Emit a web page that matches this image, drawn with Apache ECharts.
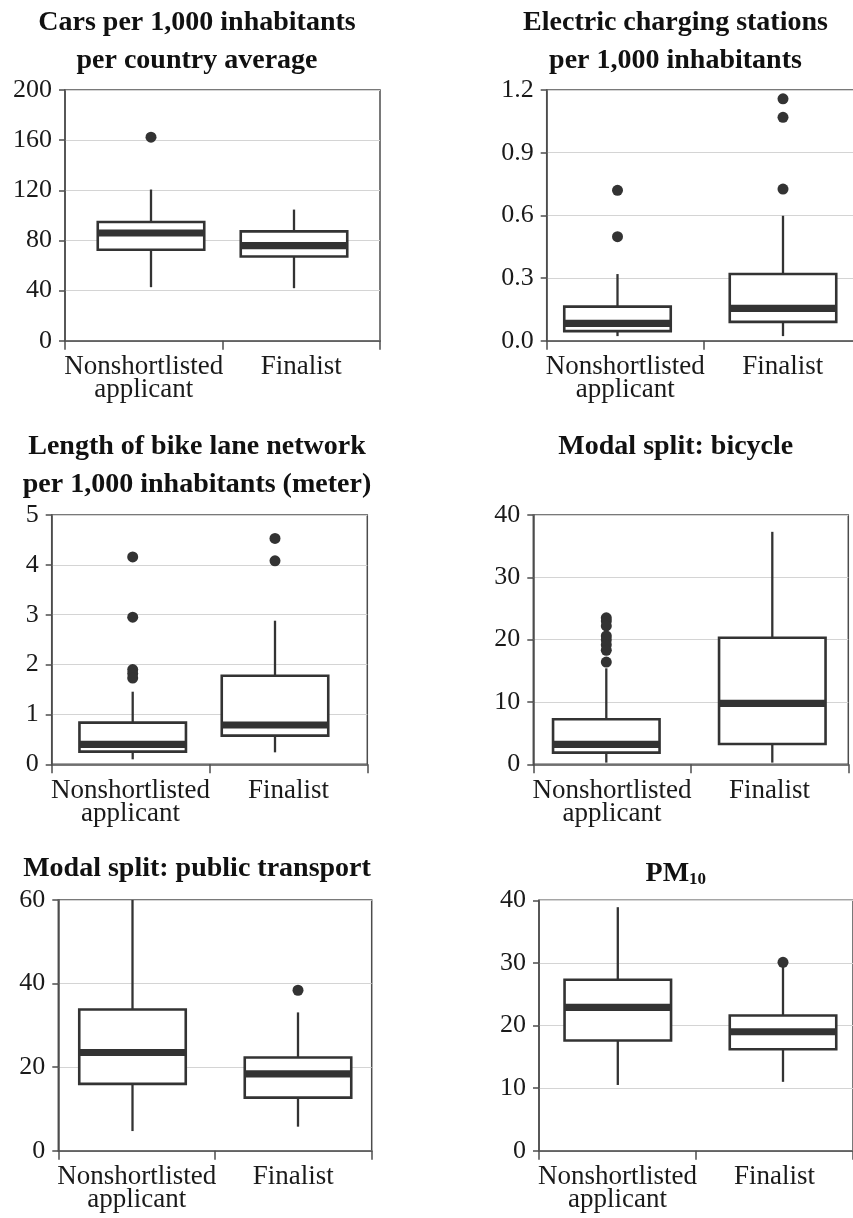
<!DOCTYPE html>
<html><head><meta charset="utf-8">
<script src="https://cdn.jsdelivr.net/npm/echarts@6/dist/echarts.min.js"></script>
<style>html,body{margin:0;padding:0;background:#fff}#c{width:853px;height:1218px}</style>
</head><body><div id="c"></div>
<script>
// ---------- data ----------
const categories = ['Nonshortlisted\napplicant', 'Finalist'];
// each box: [min whisker, Q1, median, Q3, max whisker]
const carsBoxes = [[42.7, 72.6, 85.9, 94.7, 120.6], [41.9, 67.2, 75.8, 87.2, 104.6]];
const carsOutliers = [[162.4], []];
const chargingBoxes = [[0.022, 0.046, 0.083, 0.163, 0.319], [0.022, 0.09, 0.155, 0.319, 0.598]];
const chargingOutliers = [[0.72, 0.498], [1.158, 1.069, 0.726]];
const bikeLaneBoxes = [[0.10, 0.254, 0.40, 0.835, 1.456], [0.24, 0.575, 0.788, 1.777, 2.88]];
const bikeLaneOutliers = [[4.16, 2.95, 1.9, 1.82, 1.73], [4.53, 4.08]];
const bicycleBoxes = [[0.27, 1.87, 3.2, 7.22, 15.4], [0.27, 3.26, 9.79, 20.3, 37.3]];
const bicycleOutliers = [[23.5, 23.0, 22.2, 20.6, 20.0, 19.2, 18.3, 16.4], []];
const transportBoxes = [[4.7, 16.0, 23.5, 33.8, 60], [5.75, 12.7, 18.4, 22.3, 33.1]];
const transportOutliers = [[], [38.4]];
const pm10Boxes = [[10.5, 17.6, 22.9, 27.3, 38.9], [11.0, 16.2, 19.0, 21.6, 29.6]];
const pm10Outliers = [[], [30.1]];

const titles = [
  'Cars per 1,000 inhabitants\nper country average',
  'Electric charging stations\nper 1,000 inhabitants',
  'Length of bike lane network\nper 1,000 inhabitants (meter)',
  'Modal split: bicycle',
  'Modal split: public transport',
  '{a|PM}{b|10}'
];
const yMax = [200, 1.2, 5, 40, 60, 40];
const yInterval = [40, 0.3, 1, 10, 20, 10];
const yDecimals = [0, 1, 0, 0, 0, 0];
const allBoxes = [carsBoxes, chargingBoxes, bikeLaneBoxes, bicycleBoxes, transportBoxes, pm10Boxes];
const allOutliers = [carsOutliers, chargingOutliers, bikeLaneOutliers, bicycleOutliers, transportOutliers, pm10Outliers];

// ---------- layout ----------
// visible frame / axes of each panel
const gridRects = [
  {left: 65, top: 90, width: 315, height: 250.7},
  {left: 546.7, top: 90, width: 314.6, height: 250.7},
  {left: 51.7, top: 515, width: 315.6, height: 249.3},
  {left: 533.3, top: 515, width: 315, height: 249.3},
  {left: 58.3, top: 900, width: 313.4, height: 250.7},
  {left: 539, top: 900.3, width: 314, height: 250.4}
];
// horizontal extent of the (hidden) band in which the boxes of each panel sit
const boxBands = [
  {left: 79.5, width: 286},
  {left: 534.75, width: 331},
  {left: 61.55, width: 284.6},
  {left: 523.3, width: 332},
  {left: 49.75, width: 331},
  {left: 535.2, width: 330.4}
];
const titlePos = [
  {left: 197, top: 4}, {left: 675.5, top: 4},
  {left: 197, top: 428}, {left: 675.8, top: 428},
  {left: 197, top: 850}, {left: 675.8, top: 850}
];
const BOX_WIDTH = 106.5;

const FONT = 'Liberation Serif';
const INK = '#333';
const AXIS = '#4d4d4d';

function renderBox(params, api) {
  const cat = api.value(0);
  const c = v => api.coord([cat, v]);
  const pMin = c(api.value(1)), pQ1 = c(api.value(2)), pMed = c(api.value(3)),
        pQ3 = c(api.value(4)), pMax = c(api.value(5));
  const cx = pMin[0];
  const bw = BOX_WIDTH;
  return {type: 'group', children: [
    {type: 'line', shape: {x1: cx, y1: pQ1[1], x2: cx, y2: pMin[1]}, style: {stroke: INK, lineWidth: 2.3}},
    {type: 'line', shape: {x1: cx, y1: pQ3[1], x2: cx, y2: pMax[1]}, style: {stroke: INK, lineWidth: 2.3}},
    {type: 'rect', shape: {x: cx - bw / 2, y: pQ3[1], width: bw, height: pQ1[1] - pQ3[1]},
      style: {fill: '#fff', stroke: INK, lineWidth: 2.6}},
    {type: 'rect', shape: {x: cx - bw / 2, y: pMed[1] - 3.6, width: bw, height: 7.2}, style: {fill: INK}}
  ]};
}

const option = {
  animation: false,
  backgroundColor: '#fff',
  title: [], grid: [], xAxis: [], yAxis: [], series: []
};

for (let i = 0; i < 6; i++) {
  option.title.push({
    text: titles[i], left: titlePos[i].left, top: titlePos[i].top, textAlign: 'center', padding: 0,
    textStyle: {fontFamily: FONT, fontWeight: 'bold', fontSize: 28, lineHeight: 37.7, color: '#111',
      rich: {
        a: {fontFamily: FONT, fontWeight: 'bold', fontSize: 28, lineHeight: 37.7, color: '#111', verticalAlign: 'bottom'},
        b: {fontFamily: FONT, fontWeight: 'bold', fontSize: 17, lineHeight: 26, color: '#111', verticalAlign: 'bottom'}
      }}
  });
  // visible frame grid (index 2i) and hidden box grid (index 2i+1)
  const g = gridRects[i];
  option.grid.push(Object.assign({show: true, borderColor: AXIS, borderWidth: 1.5, backgroundColor: 'transparent',
    containLabel: false, outerBoundsMode: 'none'}, g));
  option.grid.push({show: false, containLabel: false, outerBoundsMode: 'none',
    left: boxBands[i].left, width: boxBands[i].width, top: g.top, height: g.height});
  const d = yDecimals[i];
  // visible axes
  option.xAxis.push({
    type: 'category', gridIndex: 2 * i, data: categories,
    axisLine: {lineStyle: {color: AXIS, width: 1.5}},
    axisTick: {show: true, length: 9, lineStyle: {color: AXIS, width: 1.5}},
    axisLabel: {fontFamily: FONT, fontSize: 27, lineHeight: 23, color: '#1a1a1a', margin: 15, interval: 0},
    splitLine: {show: false}
  });
  option.yAxis.push({
    type: 'value', gridIndex: 2 * i, min: 0, max: yMax[i], interval: yInterval[i],
    axisLine: {show: true, lineStyle: {color: AXIS, width: 1.5}},
    axisTick: {show: true, length: 6, lineStyle: {color: AXIS, width: 1.5}},
    axisLabel: {fontFamily: FONT, fontSize: 26, color: '#1a1a1a', margin: 13,
      formatter: v => v.toFixed(d)},
    splitLine: {show: true, lineStyle: {color: '#d4d4d4', width: 1}}
  });
  // hidden axes used to place the boxes
  option.xAxis.push({type: 'category', gridIndex: 2 * i + 1, data: categories, show: false});
  option.yAxis.push({type: 'value', gridIndex: 2 * i + 1, min: 0, max: yMax[i], interval: yInterval[i], show: false});

  const boxes = allBoxes[i];
  option.series.push({
    type: 'custom', xAxisIndex: 2 * i + 1, yAxisIndex: 2 * i + 1, renderItem: renderBox, clip: false,
    encode: {x: 0, y: [1, 2, 3, 4, 5]},
    data: boxes.map((b, k) => [k].concat(b)), z: 3
  });
  const outs = [];
  allOutliers[i].forEach((arr, k) => arr.forEach(v => outs.push([k, v])));
  option.series.push({
    type: 'scatter', xAxisIndex: 2 * i + 1, yAxisIndex: 2 * i + 1, symbol: 'circle', symbolSize: 11,
    itemStyle: {color: INK, opacity: 1}, data: outs, z: 4
  });
}

const chart = echarts.init(document.getElementById('c'), null, {renderer: 'canvas'});
chart.setOption(option);
</script>
</body></html>
